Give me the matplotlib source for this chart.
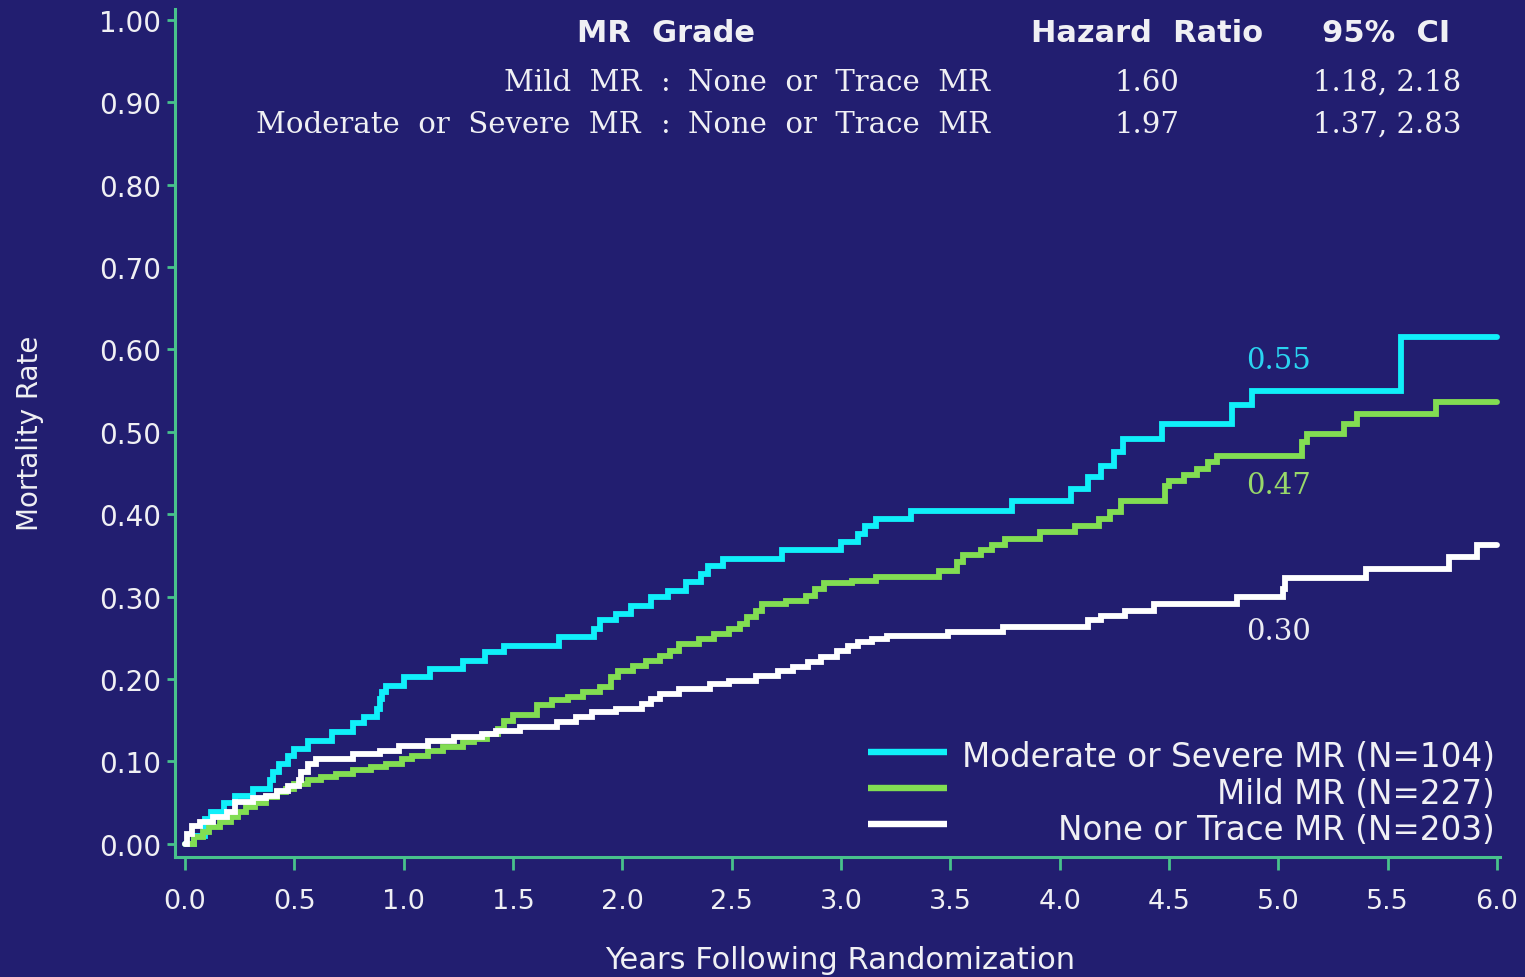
import numpy as np
import matplotlib
matplotlib.use("Agg")
import matplotlib.pyplot as plt

# ---- Kaplan-Meier style cumulative mortality (step starts, value from t onward) ----
mod_sev_t = [0, 0.04, 0.09, 0.12, 0.18, 0.23, 0.31, 0.39, 0.40, 0.43, 0.47, 0.50, 0.56,
             0.67, 0.77, 0.82, 0.88, 0.89, 0.90, 0.92, 1.00, 1.12, 1.27, 1.37, 1.46,
             1.71, 1.87, 1.90, 1.97, 2.04, 2.13, 2.21, 2.29, 2.36, 2.39, 2.46, 2.73,
             3.00, 3.08, 3.11, 3.16, 3.32, 3.78, 4.05, 4.13, 4.19, 4.25, 4.29, 4.47,
             4.79, 4.88, 5.56, 6.00]
mod_sev_v = [0, 0.010, 0.030, 0.039, 0.049, 0.058, 0.067, 0.077, 0.087, 0.097, 0.107,
             0.115, 0.125, 0.136, 0.146, 0.154, 0.164, 0.176, 0.184, 0.192, 0.203,
             0.212, 0.222, 0.233, 0.240, 0.251, 0.261, 0.271, 0.279, 0.289, 0.300,
             0.307, 0.318, 0.328, 0.337, 0.346, 0.356, 0.366, 0.376, 0.386, 0.394,
             0.404, 0.416, 0.431, 0.445, 0.459, 0.475, 0.491, 0.510, 0.532, 0.550,
             0.615, 0.615]

mild_t = [0, 0.04, 0.08, 0.11, 0.16, 0.21, 0.24, 0.28, 0.32, 0.37, 0.42, 0.46, 0.50,
          0.56, 0.62, 0.69, 0.77, 0.85, 0.92, 0.99, 1.04, 1.11, 1.18, 1.27, 1.32,
          1.38, 1.43, 1.46, 1.50, 1.61, 1.68, 1.75, 1.82, 1.90, 1.95, 1.98, 2.05,
          2.11, 2.17, 2.22, 2.26, 2.35, 2.42, 2.49, 2.54, 2.57, 2.61, 2.64, 2.75,
          2.84, 2.88, 2.92, 3.05, 3.16, 3.45, 3.53, 3.56, 3.64, 3.69, 3.75, 3.91,
          4.07, 4.18, 4.23, 4.28, 4.48, 4.50, 4.57, 4.63, 4.68, 4.72, 5.11, 5.13,
          5.30, 5.36, 5.72, 6.00]
mild_v = [0, 0.008, 0.014, 0.021, 0.027, 0.033, 0.039, 0.045, 0.050, 0.057, 0.063,
          0.067, 0.073, 0.077, 0.081, 0.085, 0.089, 0.093, 0.097, 0.103, 0.107,
          0.113, 0.117, 0.123, 0.127, 0.133, 0.139, 0.149, 0.156, 0.168, 0.174,
          0.178, 0.184, 0.190, 0.203, 0.210, 0.216, 0.222, 0.228, 0.234, 0.243,
          0.249, 0.255, 0.261, 0.267, 0.275, 0.283, 0.291, 0.295, 0.301, 0.309,
          0.316, 0.319, 0.324, 0.331, 0.342, 0.350, 0.356, 0.362, 0.370, 0.378,
          0.386, 0.394, 0.403, 0.416, 0.434, 0.440, 0.447, 0.455, 0.463, 0.470,
          0.488, 0.497, 0.510, 0.522, 0.536, 0.536]

none_t = [0, 0.01, 0.03, 0.07, 0.13, 0.19, 0.23, 0.31, 0.37, 0.42, 0.47, 0.52, 0.53,
          0.56, 0.60, 0.77, 0.89, 0.98, 1.11, 1.23, 1.36, 1.42, 1.53, 1.70, 1.79,
          1.86, 1.97, 2.09, 2.13, 2.17, 2.26, 2.40, 2.49, 2.61, 2.71, 2.78, 2.85,
          2.91, 2.98, 3.03, 3.08, 3.14, 3.21, 3.49, 3.74, 4.13, 4.19, 4.30, 4.43,
          4.81, 5.02, 5.03, 5.40, 5.78, 5.91, 6.00]
none_v = [0, 0.012, 0.022, 0.026, 0.033, 0.039, 0.051, 0.055, 0.058, 0.064, 0.070,
          0.077, 0.087, 0.097, 0.103, 0.109, 0.113, 0.119, 0.125, 0.130, 0.133,
          0.137, 0.142, 0.148, 0.154, 0.160, 0.164, 0.170, 0.176, 0.182, 0.188,
          0.194, 0.198, 0.204, 0.210, 0.215, 0.221, 0.227, 0.234, 0.240, 0.245,
          0.249, 0.252, 0.257, 0.263, 0.271, 0.277, 0.283, 0.291, 0.300, 0.309,
          0.322, 0.334, 0.348, 0.363, 0.363]

series_labels = ["Moderate or Severe MR (N=104)", "Mild MR (N=227)", "None or Trace MR (N=203)"]

# hazard-ratio table
hr_rows = [("Mild  MR", "None  or  Trace  MR"),
           ("Moderate  or  Severe  MR", "None  or  Trace  MR")]
hr_values = ["1.60", "1.97"]
hr_ci = ["1.18, 2.18", "1.37, 2.83"]

x_ticks = np.arange(0, 6.01, 0.5)
y_ticks = np.arange(0, 1.001, 0.1)
landmark_year = 5.0

# ---- styling ----
BG = "#221e70"
AXIS = "#48c28c"
TXT = "#f0f0f4"
C_MOD = "#10f0fa"
C_MILD = "#82dd52"
C_NONE = "#ffffff"
LBL_MOD = "#2ad4f0"
LBL_MILD = "#98d86a"
LBL_NONE = "#ececf2"

W, H = 1525, 978
fig = plt.figure(figsize=(W / 100, H / 100), dpi=100, facecolor=BG)
ax = fig.add_axes([175 / W, 1 - 858 / H, 1325 / W, 848 / H])
ax.set_facecolor(BG)
ax.set_xlim(-0.046, 6.014)
ax.set_ylim(-0.016, 1.013)

for s in ("top", "right"):
    ax.spines[s].set_visible(False)
for s in ("left", "bottom"):
    ax.spines[s].set_color(AXIS)
    ax.spines[s].set_linewidth(2.2)

ax.set_xticks(x_ticks)
ax.set_xticklabels([f"{v:.1f}" for v in x_ticks])
ax.set_yticks(y_ticks)
ax.set_yticklabels([f"{v:.2f}" for v in y_ticks])
ax.tick_params(axis="x", colors=AXIS, labelcolor=TXT, length=9, width=2.0,
               labelsize=19.5, pad=13)
ax.tick_params(axis="y", colors=AXIS, labelcolor=TXT, length=6, width=2.0,
               labelsize=20, pad=4)

# ---- curves ----
curves = [(mod_sev_t, mod_sev_v, C_MOD), (mild_t, mild_v, C_MILD), (none_t, none_v, C_NONE)]
for t, v, c in curves:
    ax.step(t, v, where="post", color=c, lw=4.2, solid_capstyle="round",
            solid_joinstyle="miter", zorder=3)

# ---- landmark labels at 5 years ----
def value_at(t, v, x):
    i = np.searchsorted(np.asarray(t), x, side="right") - 1
    return v[i]

label_specs = [(mod_sev_t, mod_sev_v, LBL_MOD, 0.037),
               (mild_t, mild_v, LBL_MILD, -0.035),
               (none_t, none_v, LBL_NONE, -0.042)]
for t, v, c, off in label_specs:
    val = value_at(t, v, landmark_year)
    ax.text(landmark_year, val + off, f"{val:.2f}", color=c, fontsize=21,
            family="DejaVu Serif", ha="center", va="center", zorder=4)

# ---- legend (handles left, labels right-aligned) ----
leg_rows = [0.124, 0.081, 0.039]
for (t, v, c), lab, yy in zip(curves, series_labels, leg_rows):
    ax.plot([0.523, 0.583], [yy, yy], transform=ax.transAxes, color=c, lw=4.6,
            solid_capstyle="butt", clip_on=False, zorder=4)
    ax.text(0.996, yy - 0.006, lab, transform=ax.transAxes, color=TXT, fontsize=23.5,
            ha="right", va="center", zorder=4)

# ---- axis titles ----
fig.text(30 / W, 1 - 433 / H, "Mortality Rate", rotation=90, color=TXT,
         fontsize=20, ha="center", va="center")
fig.text(840 / W, 1 - 961 / H, "Years Following Randomization", color=TXT,
         fontsize=22, ha="center", va="center")

# ---- hazard-ratio table ----
def fx(px):
    return px / W

def fy(py):
    return 1 - py / H

for txt, x in (("MR  Grade", 666), ("Hazard  Ratio", 1147), ("95%  CI", 1386)):
    fig.text(fx(x), fy(33), txt, color=TXT, fontsize=22, fontweight="bold",
             ha="center", va="center")

for (left, right), hr, ci, y in zip(hr_rows, hr_values, hr_ci, (83, 125)):
    kw = dict(color=TXT, fontsize=21, family="DejaVu Serif", va="center")
    fig.text(fx(641), fy(y), left, ha="right", **kw)
    fig.text(fx(666), fy(y), ":", ha="center", **kw)
    fig.text(fx(688), fy(y), right, ha="left", **kw)
    fig.text(fx(1147), fy(y), hr, ha="center", **kw)
    fig.text(fx(1387), fy(y), ci, ha="center", **kw)

fig.savefig("out.png", dpi=100, facecolor=BG)
